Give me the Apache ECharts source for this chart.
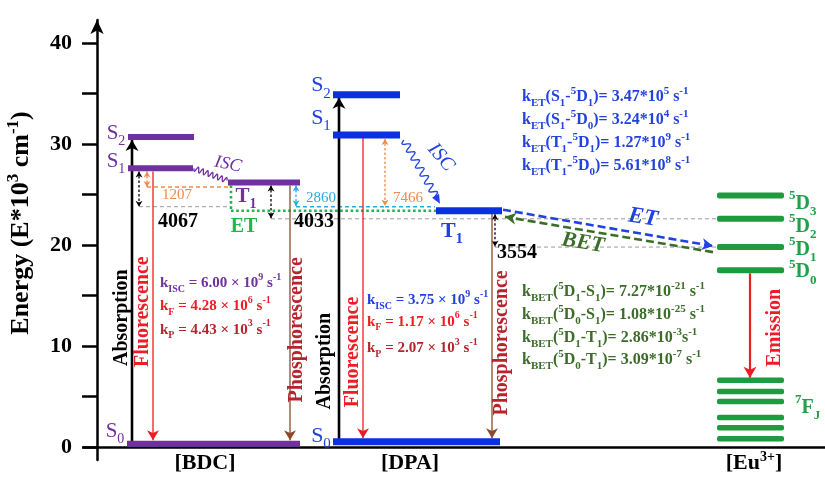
<!DOCTYPE html>
<html><head><meta charset="utf-8">
<script src="https://cdn.jsdelivr.net/npm/echarts@6.0.0/dist/echarts.min.js"></script>
<style>html,body{margin:0;padding:0;background:#fff;}#chart{width:825px;height:479px;}</style>
</head><body><div id="chart"></div>
<script>
// ---------------- data ----------------
const yLabelValues = [0, 10, 20, 30, 40];
const yTickValues = [0, 5, 10, 15, 20, 25, 30, 35, 40];
const xCategories = ['[BDC]', '[DPA]', '[Eu{sup|3+}]'];
const xCategoryCenters = [10.8, 31.3, 65.7];

// energy levels (E*10^3 cm^-1) and their horizontal span in diagram units
const bdcLevelNames = ['S0', 'S1', 'S2', 'T1'];
const bdcLevelEnergy = [0.3, 27.6, 30.7, 26.2];
const bdcLevelSpan = [[3.0, 20.3], [3.1, 9.6], [3.1, 9.7], [13.1, 20.3]];
const dpaLevelNames = ['S0', 'S1', 'S2', 'T1'];
const dpaLevelEnergy = [0.5, 30.9, 34.9, 23.4];
const dpaLevelSpan = [[23.6, 40.3], [23.6, 30.3], [23.6, 30.3], [33.9, 40.5]];
const euLevelNames = ['5D0', '5D1', '5D2', '5D3'];
const euLevelEnergy = [17.5, 19.8, 22.6, 24.9];
const euFjEnergy = [6.6, 5.5, 4.5, 2.9, 1.9, 0.8];
const euSpan = [62.0, 68.7];

// radiative transitions: [x, E from, E to]
const absorption = [[3.5, 0.3, 30.4], [24.2, 0.5, 34.6]];
const fluorescence = [[5.6, 27.3, 0.65], [26.6, 30.6, 0.85]];
const phosphorescence = [[19.3, 25.9, 0.65], [39.5, 23.1, 0.85]];
const emission = [[65.3, 17.2, 6.85]];

// energy gaps (cm^-1): arrows [x, E top, E bottom], guides [E, x from, x to]
const gapValues = [1207, 4067, 2860, 4033, 7466, 3554];
const gapArrows = [[5.0, 27.3, 25.75], [4.2, 27.3, 23.8], [19.9, 25.9, 23.85], [17.4, 25.9, 22.65], [28.8, 30.5, 23.9], [39.8, 23.05, 19.85]];
const gapGuides = [[25.75, 5.0, 13.1], [23.8, 4.2, 13.4], [23.8, 19.9, 28.8], [22.6, 17.4, 62.0], [23.8, 28.8, 33.8], [19.8, 39.8, 62.0]];
const etPath = [[13.4, 25.9], [13.4, 23.4], [33.9, 23.4]];
const energyTransfer = [[40.6, 23.5], [61.6, 19.9]];
const backTransfer = [[61.6, 19.3], [40.8, 22.8]];
const iscPaths = [[9.7, 27.6, 13.0, 26.4], [30.7, 30.4, 34.3, 24.1]];

// rate constants
const bdcRates = ['k{sub|ISC} = 6.00 × 10{sup|9} s{sup|-1}', 'k{sub|F} = 4.28 × 10{sup|6} s{sup|-1}', 'k{sub|P} = 4.43 × 10{sup|3} s{sup|-1}'];
const dpaRates = ['k{sub|ISC} = 3.75 × 10{sup|9} s{sup|-1}', 'k{sub|F} = 1.17 × 10{sup|6} s{sup|-1}', 'k{sub|P} = 2.07 × 10{sup|3} s{sup|-1}'];
const etRates = ['k{sub|ET}(S{sub|1}-{sup|5}D{sub|1})= 3.47*10{sup|5} s{sup|-1}', 'k{sub|ET}(S{sub|1}-{sup|5}D{sub|0})= 3.24*10{sup|4} s{sup|-1}', 'k{sub|ET}(T{sub|1}-{sup|5}D{sub|1})= 1.27*10{sup|9} s{sup|-1}', 'k{sub|ET}(T{sub|1}-{sup|5}D{sub|0})= 5.61*10{sup|8} s{sup|-1}'];
const betRates = ['k{sub|BET}({sup|5}D{sub|1}-S{sub|1})= 7.27*10{sup|-21} s{sup|-1}', 'k{sub|BET}({sup|5}D{sub|0}-S{sub|1})= 1.08*10{sup|-25} s{sup|-1}', 'k{sub|BET}({sup|5}D{sub|1}-T{sub|1})= 2.86*10{sup|-3}s{sup|-1}', 'k{sub|BET}({sup|5}D{sub|0}-T{sub|1})= 3.09*10{sup|-7} s{sup|-1}'];

// ---------------- styles ----------------
const FAM = 'Liberation Serif';
const COL = {
  purple: '#7030a0', blue: '#2242e0', blueBar: '#0b30e2', green: '#1f9a3e', greenLbl: '#21a049',
  darkGreen: '#3b6d28', red: '#ee1c24', brown: '#8c4a2a', darkRed: '#b4252d', orange: '#f08a4b',
  cyan: '#29abe2', gray: '#9a9a9a', black: '#000', etGreen: '#1db84a'
};
const levelColors = [COL.purple, COL.blueBar, COL.green, COL.green];
const levelThick = [6, 7, 6, 5.5];

// ---------------- build level data ----------------
const levelData = [];
bdcLevelEnergy.forEach((e, i) => levelData.push([bdcLevelSpan[i][0], bdcLevelSpan[i][1], e, 0]));
dpaLevelEnergy.forEach((e, i) => levelData.push([dpaLevelSpan[i][0], dpaLevelSpan[i][1], e, 1]));
euLevelEnergy.forEach(e => levelData.push([euSpan[0], euSpan[1], e, 2]));
euFjEnergy.forEach(e => levelData.push([euSpan[0], euSpan[1], e, 3]));

// ---------------- build segment data ----------------
const segData = [], segStyle = [];
function seg(pts, st) { segData.push(pts.flat()); segStyle.push(st); }
const gapColors = [COL.orange, COL.black, COL.cyan, COL.black, COL.orange, COL.black];
const guideColors = [COL.orange, COL.gray, COL.cyan, COL.gray, COL.cyan, COL.gray];
gapGuides.forEach((g, i) => seg([[g[1], g[0]], [g[2], g[0]]], {color: guideColors[i], width: guideColors[i] === COL.gray ? 1 : 1.4, dash: [4, 3]}));
seg([etPath[0], etPath[1]], {color: COL.etGreen, width: 2.6, dash: [2.6, 2.6]});
seg([etPath[1], etPath[2]], {color: COL.etGreen, width: 2.6, dash: [2.6, 2.6]});
gapArrows.forEach((g, i) => seg([[g[0], g[1]], [g[0], g[2]]], {color: gapColors[i], width: 1.3, dash: [2.5, 2], head: 'both', hw: 3.5, hl: 6}));
absorption.forEach(a => seg([[a[0], a[1]], [a[0], a[2]]], {color: COL.black, width: 2.6, head: 'end', hw: 6.5, hl: 11}));
fluorescence.forEach(a => seg([[a[0], a[1]], [a[0], a[2]]], {color: COL.red, width: 1.3, head: 'end', hw: 6, hl: 10}));
phosphorescence.forEach(a => seg([[a[0], a[1]], [a[0], a[2]]], {color: COL.brown, width: 1.3, head: 'end', hw: 6, hl: 10}));
emission.forEach(a => seg([[a[0], a[1]], [a[0], a[2]]], {color: COL.red, width: 2.2, head: 'end', hw: 6.5, hl: 11}));
seg(energyTransfer, {color: COL.blue, width: 2.6, dash: [8, 4], head: 'end', hw: 6, hl: 11});
seg(backTransfer, {color: COL.darkGreen, width: 2.6, dash: [8, 4], head: 'end', hw: 6, hl: 11});

// ---------------- annotations ----------------
const ann = [];
function A(text, x, y, o) { ann.push(Object.assign({text, x, y, size: 15, color: COL.black, weight: 'bold', fstyle: 'normal', align: 'center', rot: 0}, o)); }
// level labels
const bdcLabelPos = [[1.8, 1.5], [1.9, 28.3], [1.9, 31.1], [14.9, 24.8]];
bdcLevelNames.forEach((n, i) => A(n[0] + '{sub|' + n[1] + '}', bdcLabelPos[i][0], bdcLabelPos[i][1], {size: 21, color: COL.purple, weight: n[0] === 'T' ? 'bold' : 'normal'}));
const dpaLabelPos = [[22.4, 1.1], [22.4, 32.6], [22.4, 35.8], [35.5, 21.4]];
dpaLevelNames.forEach((n, i) => A(n[0] + '{sub|' + n[1] + '}', dpaLabelPos[i][0], dpaLabelPos[i][1], {size: 22, color: COL.blue, weight: n[0] === 'T' ? 'bold' : 'normal'}));
const euLabelY = [17.3, 19.5, 21.8, 24.1];
euLevelNames.forEach((n, i) => A('{sup|' + n[0] + '}' + n[1] + '{sub|' + n[2] + '}', 69.2, euLabelY[i], {size: 20, color: COL.greenLbl, align: 'left'}));
A('{sup|7}F{sub|J}', 69.8, 3.9, {size: 20, color: COL.greenLbl, align: 'left'});
// gaps
const gapLabelPos = [[8.0, 24.95], [8.1, 22.3], [22.4, 24.65], [21.7, 22.3], [31.1, 24.65], [42.0, 19.2]];
gapValues.forEach((v, i) => {
  const big = gapColors[i] === COL.black;
  A(String(v), gapLabelPos[i][0], gapLabelPos[i][1], {size: big ? 20 : 15, weight: big ? 'bold' : 'normal', color: gapColors[i]});
});
A('ET', 14.7, 21.8, {size: 20, color: COL.etGreen});
A('ISC', 13.1, 28.0, {size: 18, color: COL.purple, weight: 'normal', fstyle: 'italic', rot: -12});
A('ISC', 34.4, 28.7, {size: 20, color: COL.blue, weight: 'normal', fstyle: 'italic', rot: -50});
A('ET', 54.6, 22.7, {size: 23, color: COL.blue, fstyle: 'italic', rot: -9});
A('BET', 48.6, 20.2, {size: 22, color: COL.darkGreen, fstyle: 'italic', rot: -9});
// rates
const bdcRateY = [16.2, 13.9, 11.6], bdcRateCol = [COL.purple, COL.red, COL.darkRed];
bdcRates.forEach((t, i) => A(t, 6.3, bdcRateY[i], {size: 15, color: bdcRateCol[i], align: 'left'}));
const dpaRateY = [14.55, 12.4, 9.8], dpaRateCol = [COL.blue, COL.red, COL.darkRed];
dpaRates.forEach((t, i) => A(t, 27.0, dpaRateY[i], {size: 15, color: dpaRateCol[i], align: 'left'}));
const etRateY = [34.65, 32.4, 30.1, 27.8];
etRates.forEach((t, i) => A(t, 42.5, etRateY[i], {size: 16, color: COL.blue, align: 'left'}));
const betRateY = [15.35, 13.1, 10.8, 8.6];
betRates.forEach((t, i) => A(t, 42.5, betRateY[i], {size: 16, color: COL.darkGreen, align: 'left'}));
// vertical transition names
A('Absorption', 2.5, 12.8, {size: 20, rot: 90});
A('Fluorescence', 4.6, 13.4, {size: 20, color: COL.red, rot: 90});
A('Phosphorescence', 20.0, 11.6, {size: 20, color: COL.darkRed, rot: 90});
A('Absorption', 22.8, 8.5, {size: 20, rot: 90});
A('Fluorescence', 25.6, 9.4, {size: 20, color: COL.red, rot: 90});
A('Phosphorescence', 40.5, 10.3, {size: 20, color: COL.darkRed, rot: 90});
A('Emission', 67.8, 11.8, {size: 20, color: COL.red, rot: 90});

function richFor(size, color, weight, fstyle) {
  const s = Math.round(size * 0.66);
  const b = {fontSize: s, fontFamily: FAM, fontWeight: weight, fontStyle: fstyle, fill: color};
  return {sub: Object.assign({verticalAlign: 'bottom'}, b), sup: Object.assign({verticalAlign: 'top'}, b)};
}

// ---------------- chart ----------------
const chart = echarts.init(document.getElementById('chart'), null, {renderer: 'canvas'});
const axisFont = {fontFamily: FAM, fontWeight: 'bold', color: '#000'};
const option = {
  animation: false,
  backgroundColor: '#fff',
  grid: {left: 84, right: 0, top: 20, bottom: 19, containLabel: false, outerBoundsMode: 'none'},
  xAxis: {
    type: 'value', min: -1.3, max: 72.8,
    axisLine: {show: true, onZero: true, lineStyle: {color: '#000', width: 2.5}},
    axisTick: {show: false}, splitLine: {show: false},
    axisLabel: Object.assign({
      customValues: xCategoryCenters, margin: -10, fontSize: 22, lineHeight: 26,
      formatter: v => { let k = 0; xCategoryCenters.forEach((c, i) => { if (Math.abs(c - v) < Math.abs(xCategoryCenters[k] - v)) k = i; }); return xCategories[k]; },
      rich: {sup: {fontSize: 14, fontFamily: FAM, fontWeight: 'bold', color: '#000', verticalAlign: 'top'}}
    }, axisFont)
  },
  yAxis: {
    type: 'value', min: -1.3, max: 42.3,
    axisLine: {show: true, onZero: true, symbol: ['none', 'arrow'], symbolSize: [10, 14], lineStyle: {color: '#000', width: 2.5}},
    axisTick: {show: true, inside: false, length: 15, customValues: yTickValues, lineStyle: {color: '#000', width: 2.5}},
    axisLabel: Object.assign({customValues: yLabelValues, margin: 12, fontSize: 22}, axisFont),
    splitLine: {show: false},
    name: 'Energy (E*10{sup|3} cm{sup|-1})', nameLocation: 'middle', nameGap: 46, nameRotate: 90,
    nameTextStyle: Object.assign({fontSize: 26, lineHeight: 33, padding: [0, 0, 0, 34],
      rich: {sup: {fontSize: 17, fontFamily: FAM, fontWeight: 'bold', color: '#000', verticalAlign: 'top'}}}, axisFont)
  },
  series: [
    {
      type: 'custom', name: 'guides', z: 2, silent: true,
      data: segData, encode: {x: [0, 2], y: [1, 3]},
      renderItem: (params, api) => {
        const st = segStyle[params.dataIndex];
        const p1 = api.coord([api.value(0), api.value(1)]);
        const p2 = api.coord([api.value(2), api.value(3)]);
        const children = [{type: 'line', shape: {x1: p1[0], y1: p1[1], x2: p2[0], y2: p2[1]},
          style: {stroke: st.color, lineWidth: st.width, lineDash: st.dash || null, fill: null}}];
        const head = (tip, from) => {
          const dx = tip[0] - from[0], dy = tip[1] - from[1], L = Math.hypot(dx, dy) || 1;
          const ux = dx / L, uy = dy / L, nx = -uy, ny = ux;
          const bx = tip[0] - ux * st.hl, by = tip[1] - uy * st.hl;
          const mx = tip[0] - ux * st.hl * 0.72, my = tip[1] - uy * st.hl * 0.72;
          children.push({type: 'polygon', shape: {points: [[tip[0], tip[1]], [bx + nx * st.hw, by + ny * st.hw], [mx, my], [bx - nx * st.hw, by - ny * st.hw]]},
            style: {fill: st.color, stroke: null}});
        };
        if (st.head === 'end' || st.head === 'both') head(p2, p1);
        if (st.head === 'both') head(p1, p2);
        return {type: 'group', children};
      }
    },
    {
      type: 'custom', name: 'levels', z: 3, silent: true,
      data: levelData, encode: {x: [0, 1], y: 2},
      renderItem: (params, api) => {
        const g = api.value(3);
        const a = api.coord([api.value(0), api.value(2)]);
        const b = api.coord([api.value(1), api.value(2)]);
        const th = levelThick[g];
        return {type: 'rect', shape: {x: a[0], y: a[1] - th / 2, width: b[0] - a[0], height: th, r: g >= 2 ? 2 : 0},
          style: {fill: levelColors[g]}};
      }
    },
    {
      type: 'custom', name: 'isc', z: 4, silent: true,
      data: iscPaths, encode: {x: [0, 2], y: [1, 3]},
      renderItem: (params, api) => {
        const i = params.dataIndex;
        const color = i === 0 ? COL.purple : COL.blue;
        const waves = i === 0 ? 7 : 8, amp = i === 0 ? 2.6 : 3.6;
        const p1 = api.coord([api.value(0), api.value(1)]);
        const p2 = api.coord([api.value(2), api.value(3)]);
        const dx = p2[0] - p1[0], dy = p2[1] - p1[1], L = Math.hypot(dx, dy);
        const ux = dx / L, uy = dy / L, nx = -uy, ny = ux;
        const endT = i === 1 ? (L - 8) / L : 1;
        const pts = [];
        for (let k = 0; k <= 160; k++) {
          const t = k / 160 * endT;
          const o = amp * Math.sin(2 * Math.PI * waves * t);
          pts.push([p1[0] + dx * t + nx * o, p1[1] + dy * t + ny * o]);
        }
        const children = [{type: 'polyline', shape: {points: pts}, style: {stroke: color, lineWidth: 1.3, fill: null}}];
        if (i === 1) {
          const bx = p2[0] - ux * 9, by = p2[1] - uy * 9;
          children.push({type: 'polygon', shape: {points: [[p2[0], p2[1]], [bx + nx * 4, by + ny * 4], [bx - nx * 4, by - ny * 4]]}, style: {fill: color}});
        }
        return {type: 'group', children};
      }
    },
    {
      type: 'custom', name: 'annotations', z: 5, silent: true,
      data: ann.map(a => [a.x, a.y]), encode: {x: 0, y: 1},
      renderItem: (params, api) => {
        const a = ann[params.dataIndex];
        const p = api.coord([a.x, a.y]);
        return {type: 'text', x: p[0], y: p[1], rotation: a.rot * Math.PI / 180,
          style: {text: a.text, fill: a.color, fontSize: a.size, fontFamily: FAM, fontWeight: a.weight, fontStyle: a.fstyle,
            align: a.align, verticalAlign: 'middle', lineHeight: Math.round(a.size * 1.45),
            rich: richFor(a.size, a.color, a.weight, a.fstyle)}};
      }
    }
  ]
};
chart.setOption(option);
</script>
</body></html>
